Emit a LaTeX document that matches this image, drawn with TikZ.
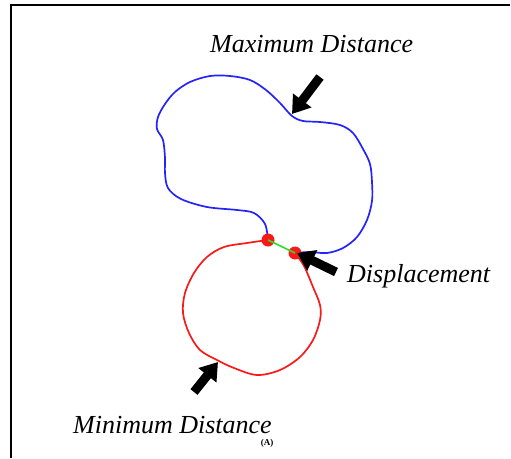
\documentclass[tikz,border=0pt]{standalone}
\usepackage{fontspec}
\setmainfont{Liberation Serif}
\usetikzlibrary{arrows.meta}
\definecolor{contourblue}{RGB}{35,35,250}
\definecolor{contourred}{RGB}{250,25,25}
\definecolor{linkgreen}{RGB}{40,225,40}
\tikzset{
  contour/.style={
    line width=1.7pt,
    line join=round,
    line cap=round
  },
  frame-line/.style={line width=1.5pt},
  pointer/.style={
    line width=9pt,
    -{Triangle[width=22pt,length=17pt]}
  },
  label-it/.style={
    font=\fontsize{26}{30}\selectfont\itshape,
    inner sep=0pt
  },
  match-dot/.style={
    circle,
    fill=contourred,
    minimum size=13pt,
    inner sep=0pt
  }
}

\begin{document}
\begin{tikzpicture}[x=1pt,y=-1pt]
  \useasboundingbox (0,0) rectangle (511,458);
  \draw[frame-line] (11,458) -- (11,5) -- (510,5);

  \draw[contour, contourblue] plot[smooth, tension=0.55] coordinates {
    (268,240) (265,224) (254,213) (237,210) (207,207) (181,199)
    (168,188) (165,173) (165,158) (163,140) (157,129) (158,117)
    (165,104) (175,92) (190,82) (210,76) (230,76) (250,80) (266,90)
    (280,103) (292,116) (303,121) (320,122) (340,125) (353,133)
    (363,149) (370,164) (372,182) (372,201) (367,220) (357,237)
    (343,248) (327,253) (310,252) (295,253)};

  \draw[contour, contourred] plot[smooth, tension=0.55] coordinates {
    (268,240) (247,243) (224,247) (207,257) (194,273) (185,293)
    (183,313) (189,333) (200,350) (217,360) (234,368) (257,375)
    (280,370) (300,357) (313,340) (320,320) (320,305) (313,287)
    (304,266) (295,253)};

  \node[match-dot] (dot-a) at (268,240) {};
  \node[match-dot] (dot-b) at (295,253) {};
  \draw[linkgreen, line width=1.6pt] (dot-a.center) -- (dot-b.center);

  \coordinate (max-tail) at (320,77);
  \coordinate (max-tip) at (292,114);
  \coordinate (disp-tail) at (336,272);
  \coordinate (disp-tip) at (297,253);
  \coordinate (min-tail) at (194,392);
  \coordinate (min-tip) at (218,362);
  \draw[pointer] (max-tail) -- (max-tip);
  \draw[pointer] (disp-tail) -- (disp-tip);
  \draw[pointer] (min-tail) -- (min-tip);

  \node[label-it, anchor=base west] (max-label) at (210,52) {Maximum Distance};
  \node[label-it, anchor=base west] (disp-label) at (347,282) {Displacement};
  \node[label-it, anchor=base west] (min-label) at (73,433) {Minimum Distance};
  \node[font=\fontsize{9}{10}\selectfont\bfseries, inner sep=0pt] (part-label) at (267,443) {(A)};
\end{tikzpicture}
\end{document}
